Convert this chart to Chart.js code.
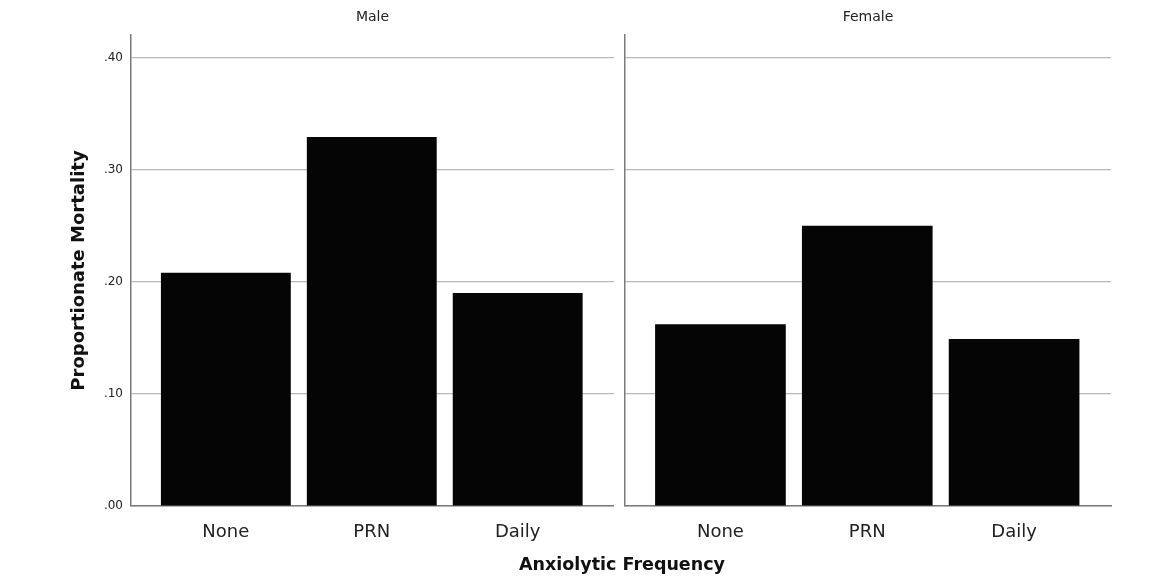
<!DOCTYPE html>
<html>
<head>
<meta charset="utf-8">
<script src="https://cdn.jsdelivr.net/npm/chart.js@4.4.1/dist/chart.umd.min.js"></script>
<style>
  body { margin: 0; background: #fff; }
  #wrap { position: relative; width: 1164px; height: 579px; }
  #maleChart { position: absolute; left: 0; top: 0; }
  #femaleChart { position: absolute; left: 600px; top: 0; }
  #xTitle {
    position: absolute; left: 0; width: 1244px; top: 554px;
    text-align: center; font: bold 17.5px "DejaVu Sans", sans-serif; color: #111;
  }
</style>
</head>
<body>
<div id="wrap">
  <canvas id="maleChart" width="614" height="579"></canvas>
  <canvas id="femaleChart" width="564" height="579"></canvas>
  <div id="xTitle">Anxiolytic Frequency</div>
</div>
<script>
const categories = ['None', 'PRN', 'Daily'];
const panels = ['Male', 'Female'];
const maleValues = [0.208, 0.329, 0.190];
const femaleValues = [0.162, 0.250, 0.149];
const yTicks = [0, 0.1, 0.2, 0.3, 0.4];

const fontFamily = '"DejaVu Sans", sans-serif';
const gridColor = '#b9b9b9';
const axisColor = '#7a7a7a';

function makePanel(canvasId, title, values, showYLabels) {
  const ctx = document.getElementById(canvasId);
  return new Chart(ctx, {
    type: 'bar',
    data: {
      datasets: [{
        data: values.map((v, i) => ({ x: i, y: v })),
        backgroundColor: '#050505',
        borderWidth: 0,
        barPercentage: 0.89,
        categoryPercentage: 1
      }]
    },
    options: {
      responsive: false,
      animation: false,
      layout: { padding: { left: 0, right: showYLabels ? 0 : 53, top: 0, bottom: 0 } },
      plugins: {
        legend: { display: false },
        tooltip: { enabled: false }
      },
      scales: {
        x: {
          type: 'linear',
          offset: false,
          min: -0.65,
          max: 2.66,
          afterBuildTicks: (scale) => { scale.ticks = categories.map((c, i) => ({ value: i })); },
          afterFit: (scale) => { scale.height = 73; },
          grid: { display: false },
          border: { display: true, color: axisColor, width: 1.5 },
          ticks: {
            autoSkip: false,
            maxRotation: 0,
            padding: 8,
            color: '#222',
            font: { family: fontFamily, size: 18 },
            callback: (v) => categories[v] || ''
          }
        },
        // panel label sits on a top axis so it centres over the plot area
        panel: {
          type: 'linear',
          position: 'top',
          offset: false,
          afterFit: (scale) => { scale.height = 35; },
          grid: { display: false },
          border: { display: false },
          ticks: { display: false },
          title: {
            display: true,
            text: title,
            color: '#222',
            font: { family: fontFamily, size: 14, weight: 'normal' },
            padding: { top: 9, bottom: 9 }
          }
        },
        y: {
          min: 0,
          max: 0.42,
          afterBuildTicks: (scale) => { scale.ticks = yTicks.map(v => ({ value: v })); },
          afterFit: (scale) => { scale.width = showYLabels ? 131 : 25; },
          grid: { color: gridColor, lineWidth: 1.2, drawTicks: false },
          border: { display: true, color: axisColor, width: 1.5 },
          ticks: {
            display: showYLabels,
            padding: 8,
            color: '#222',
            font: { family: fontFamily, size: 12 },
            callback: (v) => v.toFixed(2).replace(/^0/, '')
          },
          title: {
            display: showYLabels,
            text: 'Proportionate Mortality',
            color: '#111',
            font: { family: fontFamily, size: 18, weight: 'bold' },
            padding: { top: 69, bottom: 0 }
          }
        }
      }
    }
  });
}

makePanel('maleChart', panels[0], maleValues, true);
makePanel('femaleChart', panels[1], femaleValues, false);
</script>
</body>
</html>
